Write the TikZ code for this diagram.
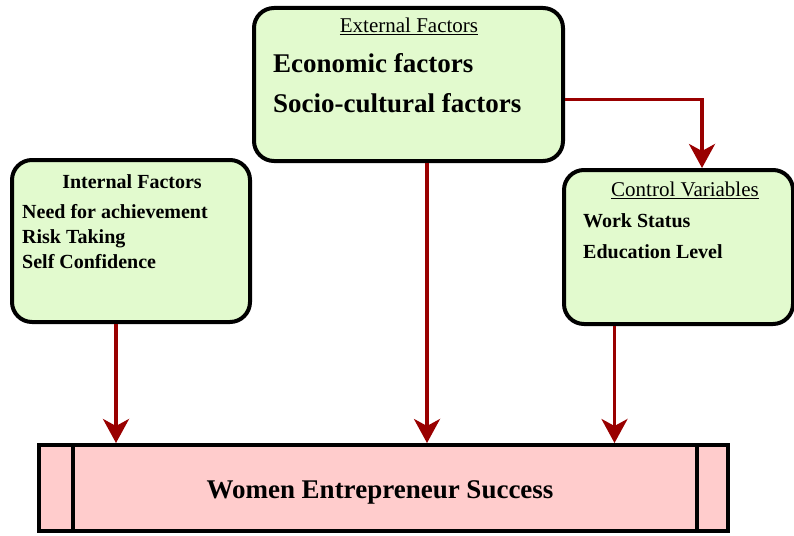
\documentclass[tikz,border=0pt]{standalone}
\usepackage{fontspec}
\setmainfont{Liberation Serif}
\usetikzlibrary{arrows.meta}
\definecolor{boxgreen}{RGB}{226,250,206}
\definecolor{boxpink}{RGB}{255,204,204}
\definecolor{linkred}{RGB}{153,0,0}
\tikzset{
  factorbox/.style={draw=black, line width=4pt, fill=boxgreen, rounded corners=20pt, inner sep=0pt},
  outcomebox/.style={draw=black, line width=4pt, fill=boxpink, inner sep=0pt},
  link/.style={draw=linkred, line width=3.5pt, -{Stealth[length=24pt,width=26pt,inset=7pt]}},
  itemtxt/.style={inner sep=0pt, anchor=base west, font=\fontsize{20}{22}\selectfont\bfseries},
  bigtxt/.style={inner sep=0pt, anchor=base west, font=\fontsize{27}{30}\selectfont\bfseries},
  titletxt/.style={inner sep=0pt, anchor=base, font=\fontsize{21}{23}\selectfont},
}
\begin{document}
\begin{tikzpicture}[x=1pt, y=-1pt]
  \useasboundingbox (0,0) rectangle (794,535);

  % boxes
  \node[factorbox, minimum width=309pt, minimum height=153pt] (ext) at (408.5,84.5) {};
  \node[factorbox, minimum width=238pt, minimum height=162pt] (int) at (131,241) {};
  \node[factorbox, minimum width=229pt, minimum height=154pt] (ctl) at (678.5,247) {};
  \node[outcomebox, minimum width=689pt, minimum height=86pt] (wes) at (383.5,488) {};
  \draw[line width=4pt] (73,0 |- wes.north) coordinate (dl1) -- (73,0 |- wes.south) coordinate (dl2);
  \draw[line width=4pt] (697,0 |- wes.north) coordinate (dr1) -- (697,0 |- wes.south) coordinate (dr2);

  % external factors
  \node[titletxt] (extT) at (409,33) {\underline{External Factors}};
  \node[bigtxt] (ext1) at (273,72) {Economic factors};
  \node[bigtxt] (ext2) at (273,112) {Socio-cultural factors};

  % internal factors
  \node[titletxt, font=\fontsize{20}{22}\selectfont\bfseries] (intT) at (132,188) {Internal Factors};
  \node[itemtxt] (int1) at (22,218) {Need for achievement};
  \node[itemtxt] (int2) at (22,243) {Risk Taking};
  \node[itemtxt] (int3) at (22,268) {Self Confidence};

  % control variables
  \node[titletxt] (ctlT) at (685,196) {\underline{Control Variables}};
  \node[itemtxt] (ctl1) at (583,227) {Work Status};
  \node[itemtxt] (ctl2) at (583,258) {Education Level};

  % outcome
  \node[inner sep=0pt, anchor=base, font=\fontsize{27}{30}\selectfont\bfseries] (wesT) at (380,498) {Women Entrepreneur Success};

  % connectors
  \draw[link] ([xshift=-15pt]int.south) -- ([xshift=-15pt]int.south |- wes.north);
  \draw[link] ([xshift=18.5pt]ext.south) -- ([xshift=18.5pt]ext.south |- wes.north);
  \draw[link] ([xshift=-64pt]ctl.south) -- ([xshift=-64pt]ctl.south |- wes.north);
  \draw[link] ([yshift=-15pt]ext.east) -| ([xshift=23.5pt]ctl.north);
\end{tikzpicture}
\end{document}
